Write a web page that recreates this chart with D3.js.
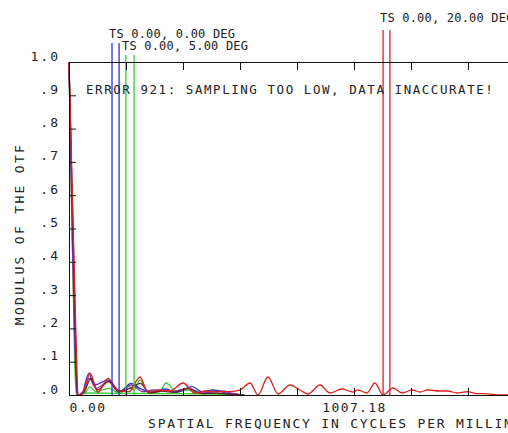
<!DOCTYPE html>
<html>
<head>
<meta charset="utf-8">
<script src="https://cdn.jsdelivr.net/npm/d3@7"></script>
<style>
  body { margin: 0; background: #fff; }
  text { font-family: "DejaVu Sans Mono", monospace; fill: #222; }
</style>
</head>
<body>
<div id="chart"></div>
<script>
const WIDTH = 508;
const HEIGHT = 433;

// frequency (cycles/mm) and modulus values
const redTFreq = [0, 25, 32, 46, 60, 74, 102, 138, 173, 212, 251, 279, 322, 357, 403, 445, 488, 523, 562, 604, 640, 668, 703, 739, 781, 816, 845, 887, 922, 965, 1004, 1021, 1053, 1081, 1110, 1145, 1177, 1212, 1240, 1269, 1311, 1339, 1371, 1407, 1442, 1470, 1498, 1523, 1560];
const redTVal  = [1.0, 0.165, 0.0, 0.003, 0.03, 0.066, 0.008, 0.05, 0.015, 0.01, 0.054, 0.008, 0.015, 0.012, 0.036, 0.006, 0.012, 0.01, 0.01, 0.015, 0.036, 0.0, 0.054, 0.003, 0.03, 0.015, 0.003, 0.03, 0.006, 0.018, 0.009, 0.015, 0.006, 0.036, 0.0, 0.021, 0.006, 0.015, 0.009, 0.015, 0.012, 0.012, 0.006, 0.01, 0.004, 0.004, 0.002, 0.0, 0.0];

const redSFreq = [0, 24, 30, 50, 78, 100, 140, 175, 215, 252, 285, 330, 370, 420, 470, 520, 560, 620];
const redSVal  = [1.0, 0.14, 0.0, 0.005, 0.05, 0.015, 0.04, 0.01, 0.02, 0.035, 0.006, 0.012, 0.008, 0.02, 0.004, 0.006, 0.003, 0.0];

const blueTFreq = [0, 22, 28, 46, 70, 90, 138, 180, 219, 250, 290, 340, 380, 435, 470, 510, 560, 600];
const blueTVal  = [1.0, 0.15, 0.0, 0.005, 0.065, 0.03, 0.045, 0.01, 0.035, 0.02, 0.008, 0.018, 0.008, 0.025, 0.01, 0.015, 0.005, 0.0];

const blueSFreq = [0, 22, 30, 50, 72, 95, 140, 180, 220, 260, 300, 360, 420, 470, 540, 580, 620];
const blueSVal  = [1.0, 0.12, 0.0, 0.01, 0.05, 0.02, 0.04, 0.012, 0.03, 0.01, 0.015, 0.01, 0.02, 0.006, 0.012, 0.005, 0.0];

const greenTFreq = [0, 24, 30, 60, 74, 95, 140, 180, 212, 230, 251, 280, 320, 343, 380, 420, 460, 520, 560];
const greenTVal  = [1.0, 0.1, 0.0, 0.01, 0.025, 0.01, 0.02, 0.005, 0.025, 0.015, 0.045, 0.008, 0.01, 0.036, 0.01, 0.015, 0.006, 0.004, 0.0];

const greenSFreq = [0, 20, 26, 60, 200, 400, 520, 600];
const greenSVal  = [1.0, 0.1, 0.0, 0.006, 0.005, 0.004, 0.003, 0.0];

// field markers
const fieldLabels = ["TS 0.00, 0.00 DEG", "TS 0.00, 5.00 DEG", "TS 0.00, 20.00 DEG"];
const fieldMarkerFreqs = [[152, 177], [201, 230], [1110, 1134]];
const fieldColors = ["#3333cc", "#33cc33", "#dd2222"];

const yTickValues = [1.0, 0.9, 0.8, 0.7, 0.6, 0.5, 0.4, 0.3, 0.2, 0.1, 0.0];
const yTickLabels = ["1.0", ".9", ".8", ".7", ".6", ".5", ".4", ".3", ".2", ".1", ".0"];
const xTickStep = 201.436;
const xMax = 2014.36;
const xLabelValues = [0, 1007.18];
const xLabelTexts = ["0.00", "1007.18"];

const svg = d3.select("#chart")
    .append("svg")
    .attr("width", WIDTH)
    .attr("height", HEIGHT);

const x = d3.scaleLinear().domain([0, xMax]).range([69, 639]);
const y = d3.scaleLinear().domain([0, 1]).range([395, 62]);

const xTicks = d3.range(0, 11).map(i => i * xTickStep);

// curves
const line = d3.line()
    .x(d => x(d[0]))
    .y(d => y(d[1]))
    .curve(d3.curveMonotoneX);

const series = [
    { f: greenSFreq, v: greenSVal, color: fieldColors[1] },
    { f: greenTFreq, v: greenTVal, color: fieldColors[1] },
    { f: blueSFreq, v: blueSVal, color: "#9933aa" },
    { f: blueTFreq, v: blueTVal, color: fieldColors[0] },
    { f: redSFreq, v: redSVal, color: "#662222" },
    { f: redTFreq, v: redTVal, color: fieldColors[2] }
];

svg.selectAll("path.curve")
    .data(series)
    .enter().append("path")
    .attr("class", "curve")
    .attr("d", d => line(d.f.map((f, i) => [f, d.v[i]])))
    .attr("fill", "none")
    .attr("stroke", d => d.color)
    .attr("stroke-width", 1.3);

// marker lines and labels
const labelPos = [
    { x: 109, y: 38, top: 43 },
    { x: 122, y: 50, top: 55 },
    { x: 380, y: 22, top: 30 }
];

fieldMarkerFreqs.forEach(function(freqs, k) {
    svg.selectAll(null)
        .data(freqs)
        .enter().append("line")
        .attr("x1", d => x(d))
        .attr("x2", d => x(d))
        .attr("y1", labelPos[k].top)
        .attr("y2", y(0))
        .attr("stroke", fieldColors[k])
        .attr("stroke-width", 1.3);
    svg.append("text")
        .attr("x", labelPos[k].x)
        .attr("y", labelPos[k].y)
        .attr("font-size", 12)
        .attr("letter-spacing", 0.2)
        .text(fieldLabels[k]);
});

// axes
const yAxis = d3.axisLeft(y)
    .tickValues(yTickValues)
    .tickSizeInner(-7)
    .tickSizeOuter(0)
    .tickPadding(9)
    .tickFormat((d, i) => yTickLabels[i]);

const gy = svg.append("g")
    .attr("transform", "translate(69,0)")
    .call(yAxis);
gy.selectAll("text")
    .attr("dy", null)
    .attr("y", -2)
    .attr("font-size", 13)
    .attr("letter-spacing", 2)
    .style("font-family", "DejaVu Sans Mono");

const xAxis = d3.axisBottom(x)
    .tickValues(xTicks)
    .tickSizeInner(-7)
    .tickSizeOuter(0)
    .tickFormat(d => {
        const i = xLabelValues.findIndex(v => Math.abs(v - d) < 0.1);
        return i >= 0 ? xLabelTexts[i] : "";
    });

const gx = svg.append("g")
    .attr("transform", `translate(0,${y(0)})`)
    .call(xAxis);
gx.selectAll("text")
    .attr("dy", null)
    .attr("y", 17)
    .attr("font-size", 13)
    .attr("letter-spacing", 1.4)
    .style("font-family", "DejaVu Sans Mono")
    .attr("text-anchor", (d, i) => i === 0 ? "start" : "middle");

const gt = svg.append("g")
    .attr("transform", `translate(0,${y(1)})`)
    .call(d3.axisTop(x).tickValues(xTicks).tickSizeInner(-8).tickSizeOuter(0).tickFormat(""));

[gx, gy, gt].forEach(g => {
    g.selectAll("path, line").attr("stroke", "#111");
    g.selectAll("text").attr("fill", "#222");
});

// titles
svg.append("text")
    .attr("transform", "translate(24,234) rotate(-90)")
    .attr("text-anchor", "middle")
    .attr("font-size", 13)
    .attr("letter-spacing", 2.3)
    .text("MODULUS OF THE OTF");

svg.append("text")
    .attr("x", 148)
    .attr("y", 428)
    .attr("font-size", 13)
    .attr("letter-spacing", 1.8)
    .text("SPATIAL FREQUENCY IN CYCLES PER MILLIMETER");

svg.append("text")
    .attr("x", 86)
    .attr("y", 94)
    .attr("font-size", 12.5)
    .attr("letter-spacing", 1.55)
    .text("ERROR 921: SAMPLING TOO LOW, DATA INACCURATE!");
</script>
</body>
</html>
